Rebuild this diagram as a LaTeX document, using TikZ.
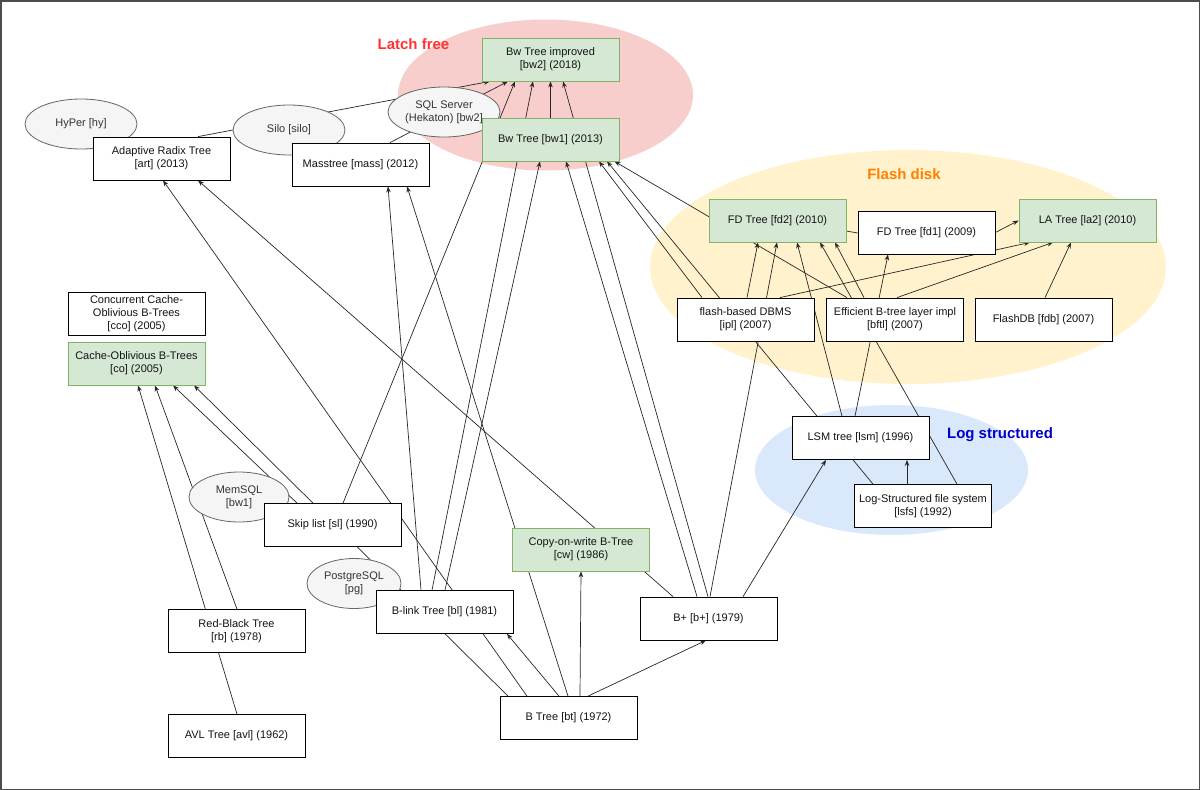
\documentclass[tikz,border=0pt]{standalone}
\usepackage{fontspec}
\setmainfont{Liberation Sans}
\usetikzlibrary{arrows.meta, shapes.geometric}
\definecolor{greenfill}{HTML}{D5E8D4}
\definecolor{greenline}{HTML}{82B366}
\definecolor{notefill}{HTML}{F5F5F5}
\definecolor{noteline}{HTML}{666666}
\definecolor{notetext}{HTML}{333333}
\definecolor{latchcol}{HTML}{F8CECC}
\definecolor{flashcol}{HTML}{FFF2CC}
\definecolor{logcol}{HTML}{DAE8FC}
\definecolor{latchtxt}{HTML}{FF3333}
\definecolor{flashtxt}{HTML}{FF8000}
\definecolor{logtxt}{HTML}{0000CC}
\pgfdeclarelayer{zones}
\pgfdeclarelayer{links}
\pgfdeclarelayer{notes}
\pgfsetlayers{zones,links,notes,main}

\begin{document}
\begin{tikzpicture}[x=1pt, y=-1pt,
      box/.style={rectangle,draw=black,fill=white,line width=0.8pt,minimum width=137pt,minimum height=43pt,inner sep=1pt,align=center,text=black!92,font=\fontsize{11}{13}\selectfont},
      gbox/.style={box,draw=greenline,fill=greenfill},
      sys/.style={ellipse,draw=noteline,fill=notefill,text=notetext,line width=0.8pt,minimum width=112pt,minimum height=50pt,inner sep=-12pt,align=center,font=\fontsize{11}{13}\selectfont},
      zone/.style={ellipse,draw=none,inner sep=0pt},
      tag/.style={font=\bfseries\fontsize{15}{18}\selectfont},
      link/.style={draw=black!85,line width=0.7pt,-{Stealth[length=6pt,width=4.5pt]}},
      bare/.style={draw=black!85,line width=0.7pt}]
    \useasboundingbox (0,0) rectangle (1200,790);
    \draw[black!70, line width=1.5pt] (0.75,0.75) rectangle (1199.25,789.25);
    \begin{pgfonlayer}{zones}
    \node[zone, fill=latchcol, minimum width=295pt, minimum height=151pt] (latch) at (545.5,95) {};
    \node[zone, fill=flashcol, minimum width=516pt, minimum height=234pt] (flash) at (908,267) {};
    \node[zone, fill=logcol, minimum width=273pt, minimum height=130pt] (logz) at (891.5,470) {};
    \node[tag, text=latchtxt] (latchlbl) at (413.5,44) {Latch free};
    \node[tag, text=flashtxt] (flashlbl) at (904,174) {Flash disk};
    \node[tag, text=logtxt] (loglbl) at (1000,435) {Log structured};
    \end{pgfonlayer}
    \node[gbox] (bw2) at (550.5,59.5)   {Bw Tree improved\\{}[bw2] (2018)};
    \node[gbox] (bw1) at (550.5,139.5)  {Bw Tree [bw1] (2013)};
    \node[box]  (art) at (161.5,158.5)  {Adaptive Radix Tree\\{}[art] (2013)};
    \node[box]  (mass) at (360.5,164.5) {Masstree [mass] (2012)};
    \node[gbox] (fd2) at (777.5,220.5)  {FD Tree [fd2] (2010)};
    \node[box]  (fd1) at (926.5,232.5)  {FD Tree [fd1] (2009)};
    \node[gbox] (la2) at (1087.5,220.5) {LA Tree [la2] (2010)};
    \node[box]  (ipl) at (745.5,319.5)  {flash-based DBMS\\{}[ipl] (2007)};
    \node[box]  (bftl) at (895,319.5)   {Efficient B-tree layer impl\\{}[bftl] (2007)};
    \node[box]  (fdb) at (1043.5,319.5) {FlashDB [fdb] (2007)};
    \node[box]  (lsm) at (860.5,438)    {LSM tree [lsm] (1996)};
    \node[box]  (lsfs) at (923,506)     {Log-Structured file system\\{}[lsfs] (1992)};
    \node[box]  (cco) at (136.5,313.5)  {Concurrent Cache-\\Oblivious B-Trees\\{}[cco] (2005)};
    \node[gbox] (co) at (136.5,363.5)   {Cache-Oblivious B-Trees\\{}[co] (2005)};
    \node[box]  (sl) at (332.5,525)     {Skip list [sl] (1990)};
    \node[gbox] (cw) at (581,549.5)     {Copy-on-write B-Tree\\{}[cw] (1986)};
    \node[box]  (bl) at (444.5,612)     {B-link Tree [bl] (1981)};
    \node[box]  (bp) at (708.5,618.5)   {B+ [b+] (1979)};
    \node[box]  (rb) at (236.5,631)     {Red-Black Tree\\{}[rb] (1978)};
    \node[box]  (bt) at (568.5,718)     {B Tree [bt] (1972)};
    \node[box]  (avl) at (236.5,736)    {AVL Tree [avl] (1962)};
    \begin{pgfonlayer}{notes}
    \node[sys] (hy) at (81,124)      {HyPer [hy]};
    \node[sys] (silo) at (289,130)   {Silo [silo]};
    \node[sys] (hek) at (444,112)    {SQL Server\\(Hekaton) [bw2]};
    \node[sys, minimum width=100pt] (memsql) at (239,497) {MemSQL\\{}[bw1]};
    \node[sys, minimum width=94pt] (pg) at (354,583.5)    {PostgreSQL\\{}[pg]};
    \end{pgfonlayer}
    \begin{pgfonlayer}{links}
    \draw[link] ([xshift=36.5pt]art.north) -- ([xshift=-60.5pt]bw2.south);
    \draw[link] ([xshift=29.5pt]mass.north) -- ([xshift=-42.5pt]bw2.south);
    \draw[link] ([xshift=10.5pt]sl.north) -- ([xshift=-35.5pt]bw2.south);
    \draw[link] ([xshift=-12.5pt]bl.north) -- ([xshift=-17.5pt]bw2.south);
    \draw[link] (bw1) -- (bw2);
    \draw[link] ([xshift=-0.5pt]bp.north) -- ([xshift=12.5pt]bw2.south);
    \draw[link] ([xshift=0.5pt]bl.north) -- ([xshift=-10.5pt]bw1.south);
    \draw[link] ([xshift=-11.5pt]bp.north) -- ([xshift=15.5pt]bw1.south);
    \draw[link] ([xshift=-43.5pt]ipl.north) -- ([xshift=48.5pt]bw1.south);
    \draw[link] ([xshift=-50pt]lsfs.north) -- ([xshift=56.5pt]bw1.south);
    \draw[link] ([xshift=-48pt]bftl.north) -- ([xshift=64pt]bw1.south);
    \draw[link] ([xshift=-23.5pt]bl.north) -- ([xshift=27.5pt]mass.south);
    \draw[link] ([xshift=-0.5pt]bt.north) -- ([xshift=46.5pt]mass.south);
    \draw[link] ([xshift=-41.5pt]bt.north) -- ([xshift=1.5pt]art.south);
    \draw[link] ([xshift=-35.5pt]bp.north) -- ([xshift=36.5pt]art.south);
    \draw[link] ([xshift=-60.5pt]bt.north) -- ([xshift=57.5pt]co.south);
    \draw[link] ([xshift=-35.5pt]sl.north) -- ([xshift=36.5pt]co.south);
    \draw[link] ([xshift=0.5pt]rb.north) -- ([xshift=18.5pt]co.south);
    \draw[link] ([xshift=0.5pt]avl.north) -- ([xshift=1.5pt]co.south);
    \draw[link] ([xshift=-9.5pt]bt.north) -- ([xshift=62.5pt]bl.south);
    \draw[link] ([xshift=11.5pt]bt.north) -- (cw.south);
    \draw[link] ([xshift=19.5pt]bt.north) -- ([xshift=-2.5pt]bp.south);
    \draw[link] ([xshift=34.5pt]bp.north) -- ([xshift=-34.5pt]lsm.south);
    \draw[link] ([xshift=-16pt]lsfs.north) -- ([xshift=46.5pt]lsm.south);
    \draw[link] ([xshift=1.5pt]bp.north) -- ([xshift=-0.5pt]fd2.south);
    \draw[link] ([xshift=1.5pt]ipl.north) -- ([xshift=-19.5pt]fd2.south);
    \draw[link] ([xshift=-18.5pt]lsm.north) -- ([xshift=19.5pt]fd2.south);
    \draw[link] ([xshift=34pt]lsfs.north) -- ([xshift=42.5pt]fd2.south);
    \draw[link] ([xshift=-31pt]bftl.north) -- ([xshift=57.5pt]fd2.south);
    \draw[link] ([xshift=-5.5pt]lsm.north) -- ([xshift=-38.5pt]fd1.south);
    \draw[link] ([xshift=34.5pt]ipl.north) -- ([xshift=-57.5pt]la2.south);
    \draw[link] ([xshift=2pt]bftl.north) -- ([xshift=-34.5pt]la2.south);
    \draw[link] ([xshift=1.5pt]fdb.north) -- ([xshift=-16.5pt]la2.south);
    \draw[link] (fd1.east) -- (la2.west);
    \draw[bare] ([yshift=-10.5pt]fd2.east) -- ([yshift=-0.5pt]fd1.west);
    \end{pgfonlayer}
  \end{tikzpicture}
\end{document}
